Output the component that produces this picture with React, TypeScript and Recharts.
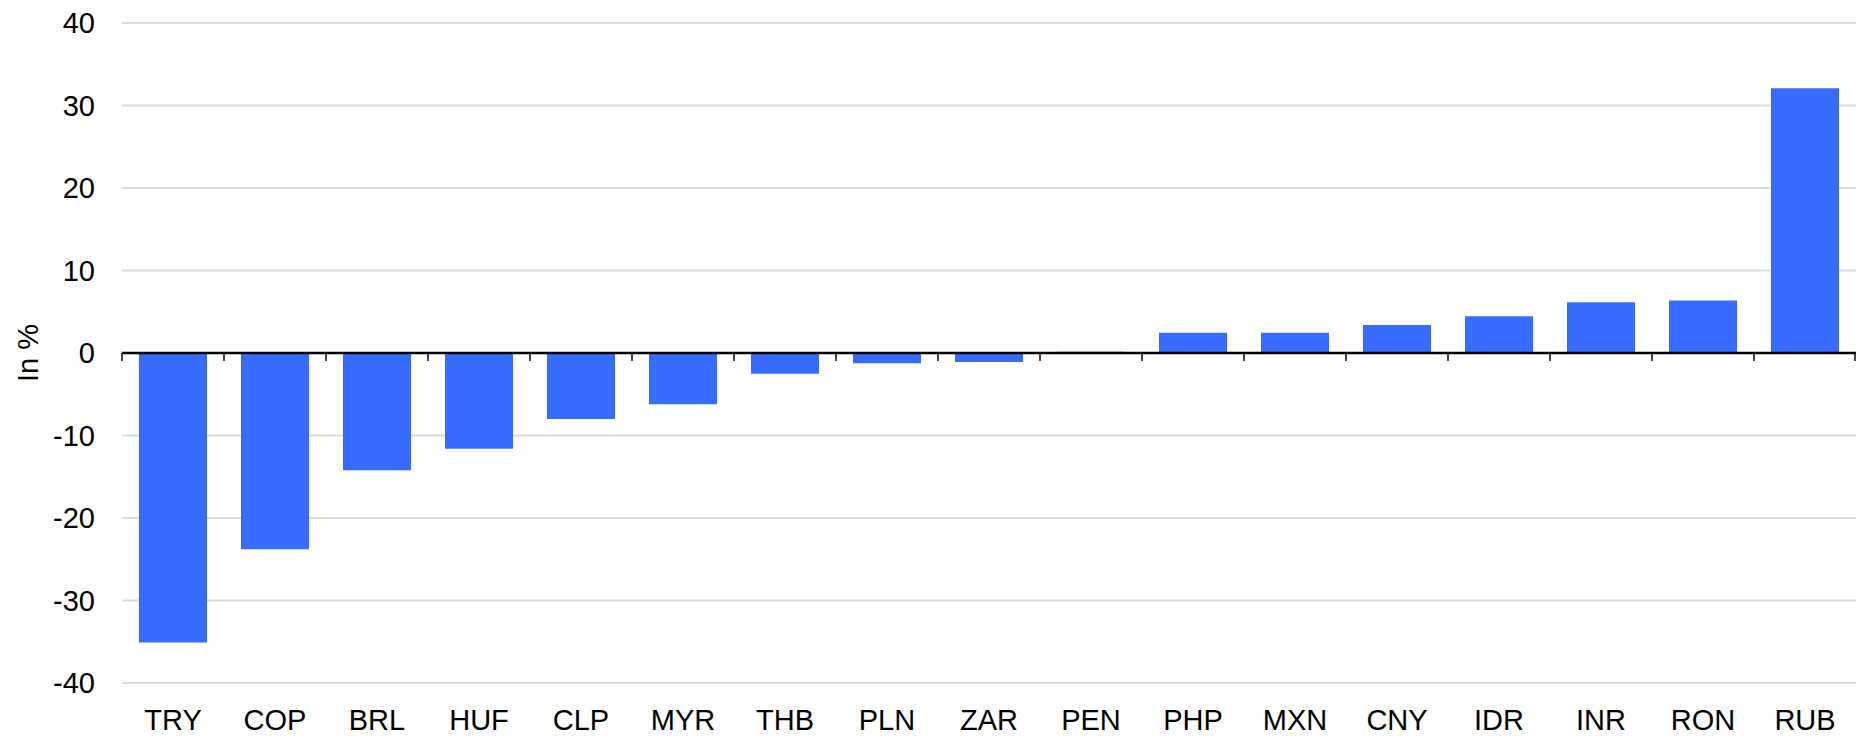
import React from "react";
import {
  BarChart,
  Bar,
  XAxis,
  YAxis,
  CartesianGrid,
  ReferenceLine,
} from "recharts";

// ─── DATA ────────────────────────────────────────────────────────────────────

const CURRENCIES = [
  "TRY", "COP", "BRL", "HUF", "CLP", "MYR", "THB", "PLN", "ZAR",
  "PEN", "PHP", "MXN", "CNY", "IDR", "INR", "RON", "RUB",
];

// change in %, per currency
const CHANGE_PCT = [
  -35.1, -23.8, -14.2, -11.6, -8.0, -6.2, -2.5, -1.25, -1.1,
  0.15, 2.45, 2.45, 3.4, 4.45, 6.15, 6.35, 32.1,
];

const Y_TICKS = [-40, -30, -20, -10, 0, 10, 20, 30, 40];

const data = CURRENCIES.map((ccy, i) => ({ ccy, value: CHANGE_PCT[i] }));

// ─── LAYOUT ──────────────────────────────────────────────────────────────────

const W = 1857;
const H = 736;
const MARGIN = { top: 23, right: 1, bottom: 0, left: 0 };
const Y_AXIS_W = 122;
const PLOT_H = 660;
const X_AXIS_H = H - MARGIN.top - MARGIN.bottom - PLOT_H;
const PLOT_W = W - MARGIN.left - MARGIN.right - Y_AXIS_W;
const BAND = PLOT_W / CURRENCIES.length;
const Y_MIN = Y_TICKS[0];
const Y_MAX = Y_TICKS[Y_TICKS.length - 1];
const ZERO_Y = MARGIN.top + (PLOT_H * Y_MAX) / (Y_MAX - Y_MIN);
const PLOT_BOTTOM = MARGIN.top + PLOT_H;

const FONT = "'Liberation Sans', Arial, Helvetica, sans-serif";
const BAR_COLOR = "#386bff";

// category label at the bottom + boundary tick marks on the zero line
function CurrencyTick(props: any) {
  const { x, payload, index } = props;
  const left = x - BAND / 2;
  const right = x + BAND / 2;
  return (
    <g>
      <line x1={left} x2={left} y1={ZERO_Y} y2={ZERO_Y + 8} stroke="#1a1a1a" strokeWidth={1.6} />
      {index === CURRENCIES.length - 1 && (
        <line x1={right - 1} x2={right - 1} y1={ZERO_Y} y2={ZERO_Y + 8} stroke="#1a1a1a" strokeWidth={1.6} />
      )}
      <text
        x={x}
        y={PLOT_BOTTOM + 47}
        textAnchor="middle"
        fill="#000"
        fontSize={29}
        fontFamily={FONT}
      >
        {payload.value}
      </text>
    </g>
  );
}

function YTitle() {
  const cx = 38;
  const cy = MARGIN.top + PLOT_H / 2;
  return (
    <text
      x={cx}
      y={cy}
      transform={`rotate(-90, ${cx}, ${cy})`}
      textAnchor="middle"
      fill="#000"
      fontSize={29}
      fontFamily={FONT}
    >
      In %
    </text>
  );
}

export default function App() {
  return (
    <div style={{ position: "absolute", left: 0, top: 0, width: W, height: H, background: "#fff" }}>
      <BarChart width={W} height={H} data={data} margin={MARGIN} barSize={68}>
        <CartesianGrid horizontal vertical={false} stroke="#dcdcdc" strokeWidth={2} />
        <XAxis
          dataKey="ccy"
          height={X_AXIS_H}
          axisLine={false}
          tickLine={false}
          tickSize={0}
          tickMargin={0}
          interval={0}
          tick={<CurrencyTick />}
        />
        <YAxis
          width={Y_AXIS_W}
          domain={[Y_MIN, Y_MAX]}
          ticks={Y_TICKS}
          interval={0}
          axisLine={false}
          tickLine={false}
          tickSize={0}
          tickMargin={27}
          tick={{ fill: "#000", fontSize: 29, fontFamily: FONT }}
          label={() => <YTitle />}
        />
        <Bar dataKey="value" fill={BAR_COLOR} isAnimationActive={false} />
        <ReferenceLine y={0} stroke="#000" strokeWidth={2.4} />
      </BarChart>
    </div>
  );
}
